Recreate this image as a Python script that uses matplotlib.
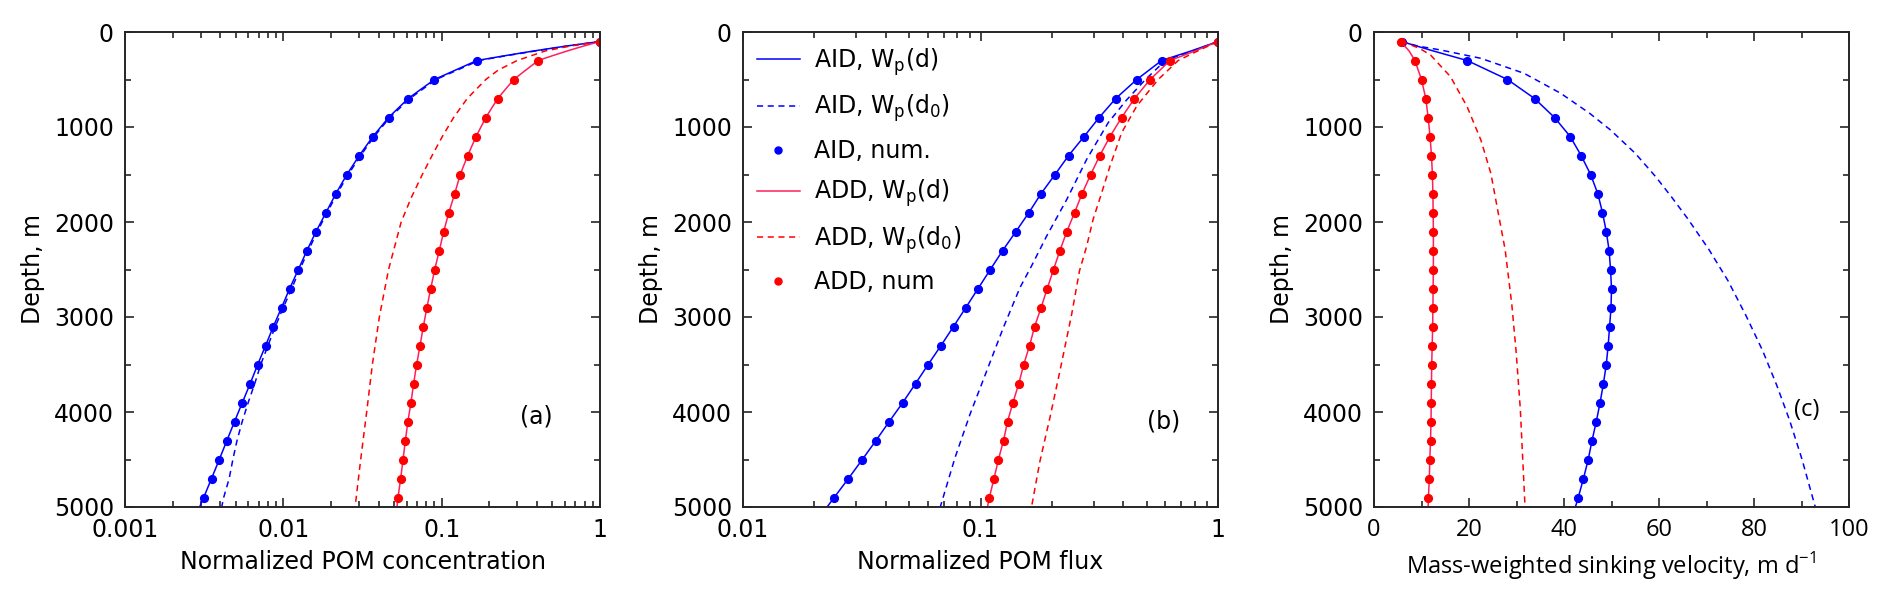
import matplotlib
matplotlib.use("Agg")
import matplotlib.pyplot as plt
from matplotlib.ticker import FixedLocator, MultipleLocator, LogLocator, NullFormatter

# ---------------- data ----------------
dot_depth = [100, 300, 500, 700, 900, 1100, 1300, 1500, 1700, 1900, 2100, 2300, 2500,
             2700, 2900, 3100, 3300, 3500, 3700, 3900, 4100, 4300, 4500, 4700, 4900]

# (a) normalized POM concentration
a_aid_num = [1.0, 0.167, 0.090, 0.0615, 0.0462, 0.0368, 0.0302, 0.0252, 0.0215, 0.0186,
             0.0161, 0.0141, 0.01244, 0.01097, 0.00975, 0.00865, 0.00773, 0.00689, 0.00618,
             0.00551, 0.00492, 0.00440, 0.00394, 0.00352, 0.00314]
a_add_num = [1.0, 0.407, 0.285, 0.226, 0.190, 0.165, 0.146, 0.131, 0.121, 0.111, 0.103,
             0.0966, 0.0904, 0.0853, 0.0807, 0.0766, 0.0730, 0.0695, 0.0665, 0.0640, 0.0612,
             0.0590, 0.0570, 0.0551, 0.0530]
a_aid_d_depth = [100, 150, 200, 250, 300, 500, 700, 900, 1100, 1300, 1500, 1700, 1900, 2100,
                 2300, 2500, 2700, 2900, 3100, 3300, 3500, 3700, 3900, 4100, 4300, 4500, 4700,
                 4900, 5000]
a_aid_d = [1.0, 0.60, 0.38, 0.25, 0.167, 0.090, 0.0615, 0.0462, 0.0368, 0.0302, 0.0252, 0.0215,
           0.0186, 0.0161, 0.0141, 0.01244, 0.01097, 0.00975, 0.00865, 0.00773, 0.00689,
           0.00618, 0.00551, 0.00492, 0.00440, 0.00394, 0.00352, 0.00314, 0.00296]
a_aid_d0 = [1.0, 0.61, 0.39, 0.255, 0.172, 0.092, 0.063, 0.047, 0.0375, 0.0308, 0.0257, 0.0219,
            0.0189, 0.0164, 0.0144, 0.0127, 0.0113, 0.0100, 0.0089, 0.0080, 0.0072, 0.0066,
            0.0060, 0.0055, 0.0051, 0.0048, 0.00455, 0.0042, 0.00408]
a_add_d_depth = [100, 150, 200, 250, 300, 500, 700, 900, 1100, 1300, 1500, 1700, 1900, 2100,
                 2300, 2500, 2700, 2900, 3100, 3300, 3500, 3700, 3900, 4100, 4300, 4500, 4700,
                 4900, 5000]
a_add_d = [1.0, 0.78, 0.62, 0.50, 0.407, 0.285, 0.226, 0.190, 0.165, 0.146, 0.131, 0.121,
           0.111, 0.103, 0.0966, 0.0904, 0.0853, 0.0807, 0.0766, 0.0730, 0.0695, 0.0665,
           0.0640, 0.0612, 0.0590, 0.0570, 0.0551, 0.0530, 0.0522]
a_add_d0_depth = [100, 150, 200, 300, 400, 500, 700, 900, 1100, 1300, 1500, 1750, 2000, 2500,
                  3000, 3500, 4000, 4500, 5000]
a_add_d0 = [1.0, 0.64, 0.45, 0.30, 0.228, 0.190, 0.145, 0.119, 0.101, 0.087, 0.0755, 0.064,
            0.0555, 0.0462, 0.0404, 0.0365, 0.0336, 0.0308, 0.0284]

# (b) normalized POM flux
b_aid_num = [1.0, 0.579, 0.455, 0.371, 0.316, 0.273, 0.235, 0.206, 0.180, 0.160, 0.141, 0.124,
             0.110, 0.0977, 0.0868, 0.0770, 0.0682, 0.0602, 0.0533, 0.0471, 0.0413, 0.0363,
             0.0318, 0.0278, 0.0242]
b_add_num = [1.0, 0.628, 0.518, 0.445, 0.393, 0.351, 0.318, 0.291, 0.268, 0.249, 0.231, 0.216,
             0.203, 0.191, 0.180, 0.169, 0.161, 0.152, 0.145, 0.137, 0.130, 0.125, 0.119,
             0.114, 0.109]
b_line_depth = [100, 200, 300, 500, 700, 900, 1100, 1300, 1500, 1700, 1900, 2100, 2300, 2500,
                2700, 2900, 3100, 3300, 3500, 3700, 3900, 4100, 4300, 4500, 4700, 4900, 5000]
b_aid_d = [1.0, 0.77, 0.579, 0.455, 0.371, 0.316, 0.273, 0.235, 0.206, 0.180, 0.160, 0.141,
           0.124, 0.110, 0.0977, 0.0868, 0.0770, 0.0682, 0.0602, 0.0533, 0.0471, 0.0413,
           0.0363, 0.0318, 0.0278, 0.0242, 0.0226]
b_add_d = [1.0, 0.80, 0.628, 0.518, 0.445, 0.393, 0.351, 0.318, 0.291, 0.268, 0.249, 0.231,
           0.216, 0.203, 0.191, 0.180, 0.169, 0.161, 0.152, 0.145, 0.137, 0.130, 0.125, 0.119,
           0.114, 0.109, 0.107]
b_aid_d0_depth = [100, 200, 300, 500, 716, 954, 1340, 1761, 2147, 2463, 2691, 3112, 3568, 4025,
                  4481, 5000]
b_aid_d0 = [1.0, 0.78, 0.60, 0.495, 0.412, 0.345, 0.280, 0.231, 0.190, 0.164, 0.1466, 0.1248,
            0.1062, 0.0903, 0.0781, 0.0677]
b_add_d0_depth = [100, 200, 300, 500, 779, 1060, 1411, 1691, 1972, 2253, 2516, 2972, 3568, 4060,
                  4516, 5000]
b_add_d0 = [1.0, 0.82, 0.68, 0.56, 0.455, 0.393, 0.351, 0.324, 0.298, 0.280, 0.261, 0.242,
            0.216, 0.196, 0.178, 0.164]

# (c) mass-weighted sinking velocity, m/d
c_aid_num = [5.8, 19.6, 28.1, 33.8, 38.0, 41.3, 43.6, 45.6, 47.1, 48.1, 48.9, 49.5, 49.8, 50.0,
             49.9, 49.6, 49.3, 48.9, 48.3, 47.6, 46.8, 45.9, 45.1, 44.1, 43.0]
c_add_num = [5.6, 8.6, 10.0, 10.9, 11.4, 11.8, 12.1, 12.3, 12.4, 12.45, 12.5, 12.5, 12.5,
             12.45, 12.4, 12.35, 12.25, 12.15, 12.1, 12.05, 12.0, 11.9, 11.75, 11.65, 11.45]
c_line_depth = [100, 200, 300, 500, 700, 900, 1100, 1300, 1500, 1700, 1900, 2100, 2300, 2500,
                2700, 2900, 3100, 3300, 3500, 3700, 3900, 4100, 4300, 4500, 4700, 4900, 5000]
c_aid_d = [5.8, 12.5, 19.6, 28.1, 33.8, 38.0, 41.3, 43.6, 45.6, 47.1, 48.1, 48.9, 49.5, 49.8,
           50.0, 49.9, 49.6, 49.3, 48.9, 48.3, 47.6, 46.8, 45.9, 45.1, 44.1, 43.0, 42.4]
c_add_d = [5.6, 7.4, 8.6, 10.0, 10.9, 11.4, 11.8, 12.1, 12.3, 12.4, 12.45, 12.5, 12.5, 12.5,
           12.45, 12.4, 12.35, 12.25, 12.15, 12.1, 12.05, 12.0, 11.9, 11.75, 11.65, 11.45, 11.4]
c_aid_d0_depth = [100, 147, 189, 277, 435, 645, 856, 1032, 1277, 1523, 1734, 1962, 2289, 2616,
                  2984, 3352, 3720, 4088, 4497, 5000]
c_aid_d0 = [5.8, 9.1, 14.0, 22.5, 31.6, 39.3, 45.4, 49.8, 55.0, 59.3, 62.6, 66.0, 70.5, 74.5,
            78.3, 81.8, 84.8, 87.5, 90.1, 92.9]
c_add_d0_depth = [100, 170, 242, 470, 786, 1137, 1488, 1944, 2289, 2862, 3352, 3966, 5000]
c_add_d0 = [5.8, 9.5, 11.9, 16.1, 19.6, 22.5, 24.6, 26.3, 27.6, 29.0, 29.9, 30.8, 31.8]

a_ticks = [0.001, 0.01, 0.1, 1]
a_ticklabels = ["0.001", "0.01", "0.1", "1"]
b_ticks = [0.01, 0.1, 1]
b_ticklabels = ["0.01", "0.1", "1"]
c_ticks = [0, 20, 40, 60, 80, 100]
y_ticks = [0, 1000, 2000, 3000, 4000, 5000]

legend_labels = ["AID, W$_\\mathregular{p}$(d)", "AID, W$_\\mathregular{p}$(d$_\\mathregular{0}$)",
                 "AID, num.", "ADD, W$_\\mathregular{p}$(d)",
                 "ADD, W$_\\mathregular{p}$(d$_\\mathregular{0}$)", "ADD, num"]

# ---------------- style ----------------
plt.rcParams['font.family'] = ['DejaVu Sans']
plt.rcParams['mathtext.fontset'] = 'dejavusans'
BLUE = '#0000FF'
RED = '#FF0000'
PINK = '#FF1F5A'
FS = 17
LW = 1.1
MS = 5.6

fig = plt.figure(figsize=(18.92, 6.10), dpi=100)
W, H = 1892, 610
def box(l, r, t, b):
    return [l / W, 1 - b / H, (r - l) / W, (b - t) / H]

ax_a = fig.add_axes(box(125, 600, 32, 507))
ax_b = fig.add_axes(box(743, 1218, 32, 507))
ax_c = fig.add_axes(box(1374, 1849, 32, 507))

def style(ax):
    for s in ax.spines.values():
        s.set_color('#262626')
        s.set_linewidth(1.4)
    ax.tick_params(which='both', direction='in', top=True, right=True,
                   color='#262626', width=1.2, labelsize=FS, pad=8)
    ax.tick_params(which='major', length=6.5)
    ax.tick_params(which='minor', length=4)
    ax.set_ylim(5000, 0)
    ax.yaxis.set_major_locator(FixedLocator(y_ticks))
    ax.yaxis.set_minor_locator(MultipleLocator(500))
    ax.set_yticklabels([str(v) for v in y_ticks])
    ax.set_ylabel("Depth, m", fontsize=FS, labelpad=6)

# (a)
ax = ax_a
ax.set_xscale('log')
ax.plot(a_aid_d, a_aid_d_depth, '-', color=BLUE, lw=LW)
ax.plot(a_aid_d0, a_aid_d_depth, '--', color=BLUE, lw=LW, dashes=(4, 3))
ax.plot(a_aid_num, dot_depth, 'o', color=BLUE, ms=MS, ls='none')
ax.plot(a_add_d, a_add_d_depth, '-', color=PINK, lw=LW)
ax.plot(a_add_d0, a_add_d0_depth, '--', color=RED, lw=LW, dashes=(4, 3))
ax.plot(a_add_num, dot_depth, 'o', color=RED, ms=MS, ls='none')
ax.set_xlim(0.001, 1)
style(ax)
ax.xaxis.set_major_locator(FixedLocator(a_ticks))
ax.xaxis.set_minor_locator(LogLocator(base=10, subs=range(2, 10)))
ax.xaxis.set_minor_formatter(NullFormatter())
ax.set_xticklabels(a_ticklabels)
ax.set_xlabel("Normalized POM concentration", fontsize=FS, labelpad=6)
ax.text(0.865, 0.19, "(a)", transform=ax.transAxes, fontsize=FS, ha='center', va='center')

# (b)
ax = ax_b
ax.set_xscale('log')
h1, = ax.plot(b_aid_d, b_line_depth, '-', color=BLUE, lw=LW)
h2, = ax.plot(b_aid_d0, b_aid_d0_depth, '--', color=BLUE, lw=LW, dashes=(4, 3))
h3, = ax.plot(b_aid_num, dot_depth, 'o', color=BLUE, ms=MS, ls='none')
h4, = ax.plot(b_add_d, b_line_depth, '-', color=PINK, lw=LW)
h5, = ax.plot(b_add_d0, b_add_d0_depth, '--', color=RED, lw=LW, dashes=(4, 3))
h6, = ax.plot(b_add_num, dot_depth, 'o', color=RED, ms=MS, ls='none')
ax.set_xlim(0.01, 1)
style(ax)
ax.xaxis.set_major_locator(FixedLocator(b_ticks))
ax.xaxis.set_minor_locator(LogLocator(base=10, subs=range(2, 10)))
ax.xaxis.set_minor_formatter(NullFormatter())
ax.set_xticklabels(b_ticklabels)
ax.set_xlabel("Normalized POM flux", fontsize=FS, labelpad=6)
ax.text(0.885, 0.18, "(b)", transform=ax.transAxes, fontsize=FS, ha='center', va='center')
leg = ax.legend([h1, h2, h3, h4, h5, h6], legend_labels, loc='upper left', frameon=False,
                fontsize=FS, handlelength=1.8, handletextpad=0.6, labelspacing=0.62,
                borderaxespad=0.2, markerscale=0.9, bbox_to_anchor=(0.0, 1.0))

# (c)
ax = ax_c
ax.plot(c_aid_d, c_line_depth, '-', color=BLUE, lw=LW)
ax.plot(c_aid_d0, c_aid_d0_depth, '--', color=BLUE, lw=LW, dashes=(4, 3))
ax.plot(c_aid_num, dot_depth, 'o', color=BLUE, ms=MS, ls='none')
ax.plot(c_add_d, c_line_depth, '-', color=PINK, lw=LW)
ax.plot(c_add_d0, c_add_d0_depth, '--', color=RED, lw=LW, dashes=(4, 3))
ax.plot(c_add_num, dot_depth, 'o', color=RED, ms=MS, ls='none')
ax.set_xlim(0, 100)
style(ax)
ax.xaxis.set_major_locator(FixedLocator(c_ticks))
ax.xaxis.set_minor_locator(MultipleLocator(10))
ax.set_xticklabels([str(v) for v in c_ticks], family=['Open Sans', 'DejaVu Sans'])
ax.set_xlabel("Mass-weighted sinking velocity, m d$^{\\mathregular{-1}}$", fontsize=FS,
              labelpad=6, family=['Open Sans', 'DejaVu Sans'])
ax.text(0.911, 0.205, "(c)", transform=ax.transAxes, fontsize=FS, ha='center', va='center',
        family=['Open Sans', 'DejaVu Sans'])

fig.savefig("out.png", dpi=100)
